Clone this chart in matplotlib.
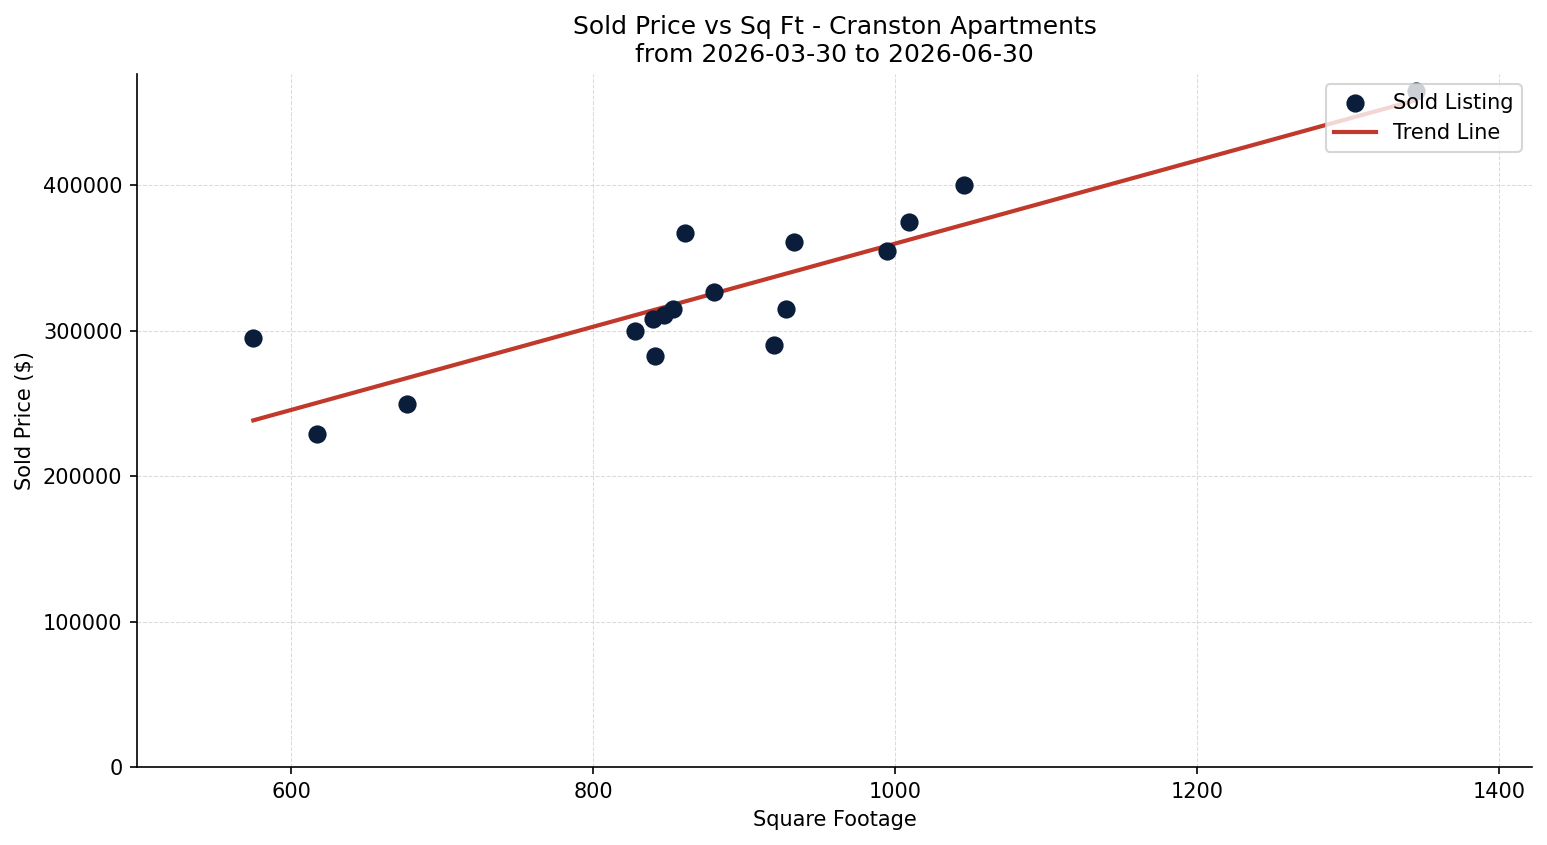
import numpy as np
import matplotlib
matplotlib.use("Agg")
import matplotlib.pyplot as plt

# ---------------------------------------------------------------------------
# Data
# ---------------------------------------------------------------------------
sqft = [575, 617, 677, 828, 841, 840, 847, 853, 861, 880,
        920, 928, 933, 995, 1009, 1046, 1345]
price = [295000, 229000, 250000, 300000, 283000, 308000, 311000, 315000, 367000, 327000,
         290000, 315000, 361000, 355000, 375000, 400000, 465000]

TITLE = "Sold Price vs Sq Ft - Cranston Apartments\nfrom 2026-03-30 to 2026-06-30"
DOT_COLOR = "#0a1e3b"
LINE_COLOR = "#c0392b"

x = np.array(sqft, dtype=float)
y = np.array(price, dtype=float)

# least squares trend
slope, intercept = np.polyfit(x, y, 1)
xs = np.array([x.min(), x.max()])

fig, ax = plt.subplots(figsize=(1547 / 150, 845 / 150), dpi=150)
fig.subplots_adjust(left=0.0886, right=0.9903, top=0.9124, bottom=0.0923)

ax.scatter(x, y, s=60, color=DOT_COLOR, label="Sold Listing", zorder=3)
ax.plot(xs, slope * xs + intercept, color=LINE_COLOR, lw=2, label="Trend Line", zorder=2)

pad = 0.1 * (x.max() - x.min())
ax.set_xlim(x.min() - pad, x.max() + pad)
ax.set_ylim(0, y.max() * 1.025)

ax.set_title(TITLE, fontsize=12)
ax.set_xlabel("Square Footage")
ax.set_ylabel("Sold Price ($)")
ax.grid(True, linestyle="--", color="#cccccc", lw=0.5, alpha=0.7)
ax.spines["top"].set_visible(False)
ax.spines["right"].set_visible(False)
ax.legend(loc="upper right")

plt.savefig("out.png", dpi=150)
